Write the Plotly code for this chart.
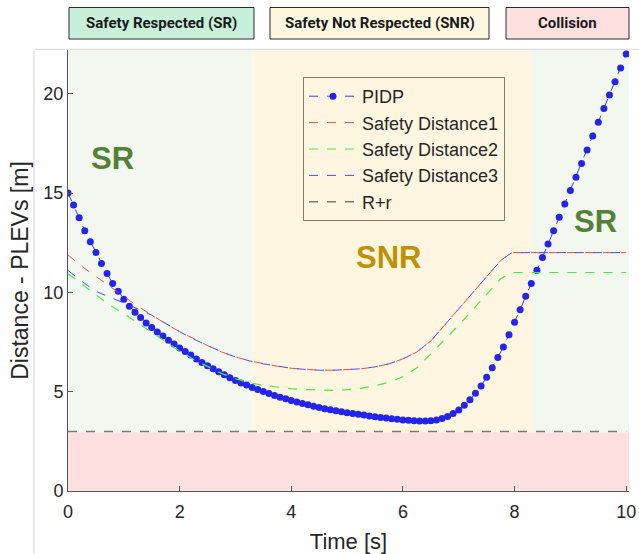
import plotly.graph_objects as go

# ---------------- data ----------------
pidp_t = [round(i * 0.1, 1) for i in range(101)]
pidp_d = [15.0, 14.4, 13.75, 13.1, 12.55, 12.0, 11.45, 10.95, 10.45, 10.05,
          9.65, 9.3, 9.0, 8.73, 8.46, 8.23, 8.0, 7.8, 7.59, 7.4,
          7.2, 7.02, 6.84, 6.65, 6.47, 6.3, 6.15, 6.0, 5.85, 5.7,
          5.56, 5.44, 5.33, 5.21, 5.11, 5.01, 4.91, 4.81, 4.72, 4.64,
          4.56, 4.48, 4.41, 4.34, 4.27, 4.2, 4.14, 4.09, 4.04, 3.99,
          3.94, 3.9, 3.86, 3.82, 3.78, 3.74, 3.7, 3.67, 3.64, 3.61,
          3.58, 3.56, 3.54, 3.52, 3.52, 3.54, 3.58, 3.65, 3.75, 3.9,
          4.08, 4.32, 4.59, 4.92, 5.29, 5.73, 6.2, 6.72, 7.25, 7.86,
          8.5, 9.13, 9.8, 10.44, 11.11, 11.75, 12.43, 13.1, 13.78, 14.45,
          15.13, 15.8, 16.49, 17.16, 17.87, 18.56, 19.25, 19.93, 20.6, 21.3,
          22.0]

sd_t = [0, 0.25, 0.5, 0.75, 1.0, 1.25, 1.5, 1.75, 2.0, 2.25, 2.5, 2.75, 3.0,
        3.25, 3.5, 3.75, 4.0, 4.25, 4.5, 4.75, 5.0, 5.25, 5.5, 5.75, 6.0,
        6.25, 6.5, 6.75, 7.0, 7.25, 7.5, 7.75, 7.95, 8.5, 9.0, 10.0]
sd1 = [11.88, 11.3, 10.8, 10.28, 9.8, 9.3, 8.85, 8.42, 8.02, 7.65, 7.32, 7.0, 6.75,
       6.55, 6.4, 6.28, 6.18, 6.12, 6.08, 6.08, 6.1, 6.15, 6.25, 6.4, 6.65,
       7.0, 7.55, 8.35, 9.2, 10.0, 10.8, 11.6, 12.0, 12.0, 12.0, 12.0]
sd2 = [10.94, 10.4, 9.9, 9.35, 8.92, 8.45, 7.97, 7.5, 7.05, 6.62, 6.25, 5.92, 5.65,
       5.45, 5.32, 5.23, 5.15, 5.1, 5.08, 5.07, 5.1, 5.17, 5.3, 5.47, 5.75,
       6.2, 6.9, 7.62, 8.35, 9.12, 9.9, 10.68, 11.0, 11.0, 11.0, 11.0]
sd3 = [11.1, 10.55, 10.05, 9.77, 9.48, 9.17, 8.85, 8.42, 8.02, 7.65, 7.32, 7.0, 6.75,
       6.55, 6.4, 6.28, 6.18, 6.12, 6.08, 6.08, 6.1, 6.15, 6.25, 6.4, 6.65,
       7.0, 7.55, 8.35, 9.2, 10.0, 10.8, 11.6, 12.0, 12.0, 12.0, 12.0]
rr_t = [0, 10]
rr_d = [3, 3]

# zones
sr_zones = [(0, 3.3), (8.3, 10.05)]
snr_zone = (3.3, 8.3)
collision_top = 2.95

x_ticks = [0, 2, 4, 6, 8, 10]
y_ticks = [0, 5, 10, 15, 20]

# ---------------- layout helpers ----------------
W, H = 639, 554
L, R, T, B = 68, 10, 50, 63
PW, PH = W - L - R, H - T - B


def xp(px):
    return (px - L) / PW


def yp(py):
    return (H - B - py) / PH


fig = go.Figure()

fig.add_trace(go.Scatter(x=pidp_t, y=pidp_d, name="PIDP", mode="lines+markers",
                         line=dict(color="#3a3af0", width=1, dash="dash"),
                         marker=dict(color="#2424ee", size=7)))
fig.add_trace(go.Scatter(x=sd_t, y=sd1, name="Safety Distance1", mode="lines",
                         line=dict(color="#ff4a3a", width=1, dash="dash")))
fig.add_trace(go.Scatter(x=sd_t, y=sd2, name="Safety Distance2", mode="lines",
                         line=dict(color="#44ee33", width=1.2, dash="dash")))
fig.add_trace(go.Scatter(x=sd_t, y=sd3, name="Safety Distance3", mode="lines",
                         line=dict(color="#4a4aff", width=1, dash="dash")))
fig.add_trace(go.Scatter(x=rr_t, y=rr_d, name="R+r", mode="lines",
                         line=dict(color="#7a7a72", width=1.5, dash="dash")))

shapes = []
for x0, x1 in sr_zones:
    shapes.append(dict(type="rect", xref="x", yref="y", x0=x0, x1=x1, y0=0, y1=22.2,
                       fillcolor="#f2f7ef", line=dict(width=0), layer="below"))
shapes.append(dict(type="rect", xref="x", yref="y", x0=snr_zone[0], x1=snr_zone[1],
                   y0=0, y1=22.2, fillcolor="#fff6e1", line=dict(width=0), layer="below"))
shapes.append(dict(type="rect", xref="x", yref="y", x0=0, x1=10.05, y0=0, y1=collision_top,
                   fillcolor="#ffe0e1", line=dict(width=0), layer="below"))

# frame lines of the screenshot
shapes.append(dict(type="line", xref="paper", yref="paper", x0=xp(34), x1=xp(639),
                   y0=yp(49.3), y1=yp(49.3), line=dict(color="#d6d6d6", width=1)))
shapes.append(dict(type="line", xref="paper", yref="paper", x0=xp(34), x1=xp(34),
                   y0=yp(49.3), y1=yp(554), line=dict(color="#d6d6d6", width=1)))

# top boxes
boxes = [("Safety Respected (SR)", 69, 254, "#c8efd9"),
         ("Safety Not Respected (SNR)", 270, 489, "#fff8e1"),
         ("Collision", 506, 629, "#ffe0e1")]
annotations = []
for txt, a, b, col in boxes:
    shapes.append(dict(type="rect", xref="paper", yref="paper", x0=xp(a), x1=xp(b),
                       y0=yp(39), y1=yp(7.5), fillcolor=col,
                       line=dict(color="#2b2b2b", width=1)))
    annotations.append(dict(text="<b>%s</b>" % txt, xref="paper", yref="paper",
                            x=xp((a + b) / 2), y=yp(23), showarrow=False,
                            font=dict(family="Liberation Sans Narrow, Roboto, Arial", size=15,
                                      color="#1a1a1a"),
                            xanchor="center", yanchor="middle"))

zone_labels = [("SR", 0.79, 16.75, "#548235"),
               ("SNR", 5.75, 11.73, "#bf9000"),
               ("SR", 9.45, 13.55, "#548235")]
for txt, x, y, col in zone_labels:
    annotations.append(dict(text="<b>%s</b>" % txt, x=x, y=y, xref="x", yref="y",
                            showarrow=False, xanchor="center", yanchor="middle",
                            font=dict(family="Liberation Sans, Arial", size=31, color=col)))

axis_common = dict(showline=True, linecolor="#555555", linewidth=1, ticks="inside",
                   ticklen=5, tickcolor="#555555", showgrid=False, zeroline=False,
                   tickfont=dict(family="Liberation Sans, Arial", size=18, color="#262626"),
                   mirror=False, automargin=False)

fig.update_layout(
    width=W, height=H,
    margin=dict(l=L, r=R, t=T, b=B, pad=0, autoexpand=False),
    paper_bgcolor="white", plot_bgcolor="white",
    shapes=shapes, annotations=annotations,
    font=dict(family="Liberation Sans, Arial", color="#262626"),
    xaxis=dict(range=[0, 10.05], tickvals=x_ticks, ticklabelstandoff=4,
               title=dict(text="Time [s]", font=dict(size=22, color="#262626"), standoff=14),
               **axis_common),
    yaxis=dict(range=[0, 22.2], tickvals=y_ticks,
               title=dict(text="Distance - PLEVs [m]", font=dict(size=23, color="#262626"),
                          standoff=8),
               **axis_common),
    legend=dict(x=xp(303), y=yp(77), xanchor="left", yanchor="top",
                bgcolor="rgba(0,0,0,0)", bordercolor="#857b6b", borderwidth=1,
                font=dict(family="Liberation Sans, Arial", size=18, color="#262626"),
                itemwidth=48, tracegroupgap=0),
    showlegend=True,
)

fig.write_html("out.html", config={"displayModeBar": False},
               post_script="document.body.style.margin='0px';")
